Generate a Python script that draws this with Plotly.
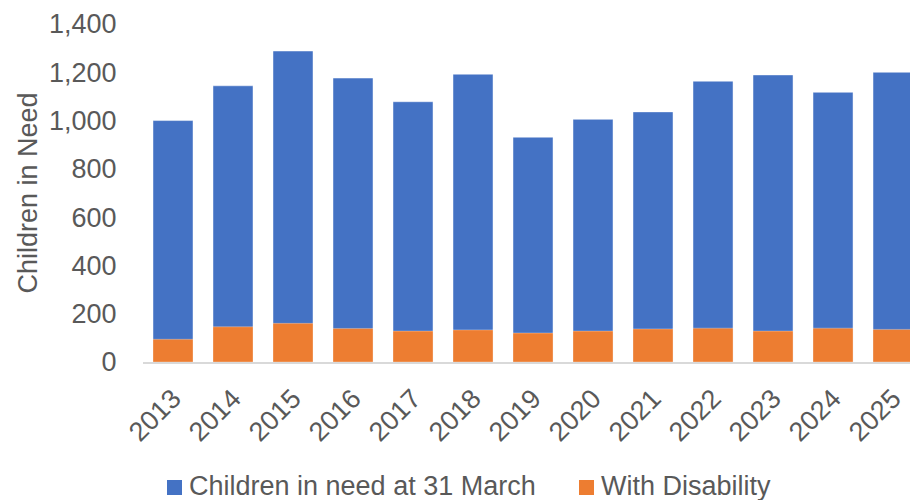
import plotly.graph_objects as go

years = ["2013", "2014", "2015", "2016", "2017", "2018", "2019",
         "2020", "2021", "2022", "2023", "2024", "2025"]
children_in_need = [1000, 1144, 1288, 1176, 1078, 1192, 931,
                    1005, 1036, 1163, 1189, 1117, 1200]
with_disability = [94, 146, 160, 139, 128, 133, 120,
                   128, 137, 140, 128, 140, 135]
y_ticks = [0, 200, 400, 600, 800, 1000, 1200, 1400]
y_tick_labels = ["0", "200", "400", "600", "800", "1,000", "1,200", "1,400"]

series_names = ["Children in need at 31 March", "With Disability"]
colors = ["#4472C4", "#ED7D31"]
FONT = "Liberation Sans, Arial, sans-serif"
TEXT = "#595959"
FS = 27

fig = go.Figure()
fig.add_trace(go.Bar(x=years, y=children_in_need, name=series_names[0],
                     marker=dict(color=colors[0],
                                 line=dict(color="rgba(255,255,255,0.45)", width=1))))
fig.add_trace(go.Bar(x=years, y=with_disability, name=series_names[1],
                     marker=dict(color=colors[1],
                                 line=dict(color="rgba(255,255,255,0.3)", width=1))))

fig.update_layout(
    width=910, height=500,
    margin=dict(l=143, r=0, t=24, b=138),
    paper_bgcolor="white", plot_bgcolor="white",
    barmode="overlay", bargap=1/3,
    showlegend=False,
    font=dict(family=FONT, size=FS, color=TEXT),
)
fig.update_xaxes(
    type="category", range=[-0.5, 12.283],
    showline=True, linecolor="#D9D9D9", linewidth=2,
    showgrid=False, tickangle=-45,
    ticks="outside", ticklen=8, tickcolor="rgba(0,0,0,0)",
    tickfont=dict(family=FONT, size=FS, color=TEXT),
)
fig.update_yaxes(
    range=[0, 1400], tickvals=y_ticks, ticktext=y_tick_labels,
    showgrid=False, showline=False, zeroline=False,
    ticks="outside", ticklen=20, tickcolor="rgba(0,0,0,0)",
    tickfont=dict(family=FONT, size=FS, color=TEXT),
    title=dict(text="Children in Need", standoff=3,
               font=dict(family=FONT, size=FS, color=TEXT)),
)

# Manual legend at the bottom
legend_items = [(167, series_names[0], colors[0]), (579, series_names[1], colors[1])]
for x0, label, col in legend_items:
    fig.add_shape(type="rect", xref="paper", yref="paper",
                  x0=(x0 - 143) / 767, x1=(x0 + 15 - 143) / 767,
                  y0=-(480 - 362) / 338, y1=-(495 - 362) / 338,
                  fillcolor=col, line=dict(width=0))
    fig.add_annotation(xref="paper", yref="paper",
                       x=(x0 + 20 - 143) / 767, y=-(486 - 362) / 338,
                       xanchor="left", yanchor="middle", showarrow=False,
                       text=label, font=dict(family=FONT, size=FS, color=TEXT))

fig.write_html("out.html")
